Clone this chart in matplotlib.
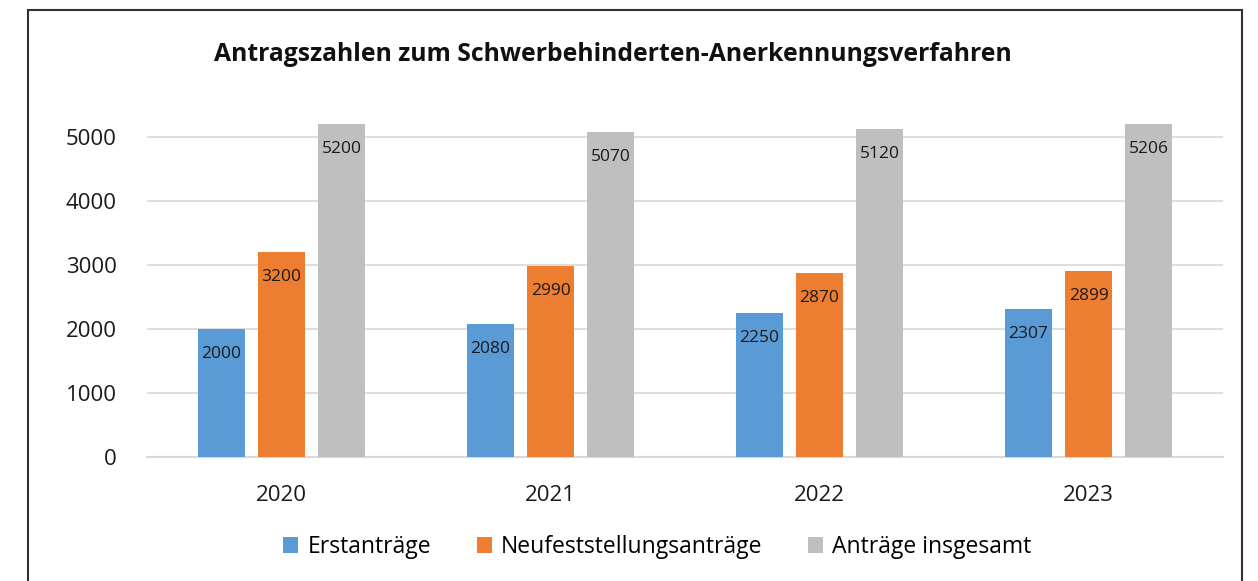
import matplotlib.pyplot as plt
import matplotlib.patches as patches
import numpy as np

years = ["2020", "2021", "2022", "2023"]
erst = [2000, 2080, 2250, 2307]
neu = [3200, 2990, 2870, 2899]
ges = [5200, 5070, 5120, 5206]
series_names = ["Erstanträge", "Neufeststellungsanträge", "Anträge insgesamt"]
colors = ["#5B9BD5", "#ED7D31", "#BFBFBF"]

plt.rcParams['font.family'] = ['Open Sans', 'DejaVu Sans']

fig = plt.figure(figsize=(12.58, 5.81), dpi=100)
ax = fig.add_axes([0.1169, 0.2134, 0.8553, 0.5839])

x = np.arange(len(years))
w = 0.175
step = 0.223
bars = []
for i, (vals, name, c) in enumerate(zip([erst, neu, ges], series_names, colors)):
    b = ax.bar(x + (i - 1) * step, vals, width=w, color=c, label=name, zorder=3)
    bars.append(b)
    for rect, v in zip(b, vals):
        ax.annotate(str(v), (rect.get_x() + rect.get_width() / 2, v),
                    xytext=(0, -18), textcoords="offset points",
                    ha="center", va="center", fontsize=12.5, color="#1a1a1a", zorder=4)

ax.set_xlim(-0.5, 3.5)
ax.set_ylim(0, 5300)
ax.set_yticks(range(0, 5001, 1000))
ax.set_xticks(x)
ax.set_xticklabels(years)
ax.grid(axis="y", color="#DEDEDE", linewidth=1.5, zorder=0)
for s in ["top", "right", "left"]:
    ax.spines[s].set_visible(False)
ax.spines["bottom"].set_color("#D9D9D9")
ax.spines["bottom"].set_linewidth(1.5)
ax.tick_params(length=0, labelsize=16, colors="#1a1a1a")
ax.tick_params(axis="y", pad=22)
ax.tick_params(axis="x", pad=20)

fig.text(0.4873, 0.907, "Antragszahlen zum Schwerbehinderten-Anerkennungsverfahren",
         ha="center", va="center", fontsize=17.8, fontweight="bold", color="#111111")

fig.legend(handles=bars, labels=series_names, loc="center", bbox_to_anchor=(0.5227, 0.0585),
           ncol=3, frameon=False, fontsize=16.5, handlelength=0.65, handleheight=0.7,
           handletextpad=0.4, columnspacing=2.0)

border = patches.Rectangle((0.02226, -0.1), 0.9873 - 0.02226, 1.0828,
                           transform=fig.transFigure, fill=False,
                           edgecolor="#333333", linewidth=1.5, clip_on=False)
fig.patches.append(border)

fig.savefig("out.png", dpi=100)
